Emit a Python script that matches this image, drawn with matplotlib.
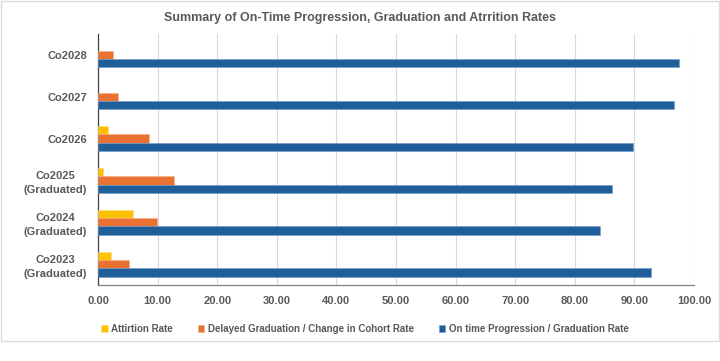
import matplotlib
matplotlib.use("Agg")
import matplotlib.pyplot as plt
import numpy as np
from matplotlib.patches import Rectangle

categories = ["Co2023\n(Graduated)", "Co2024\n(Graduated)", "Co2025\n(Graduated)", "Co2026", "Co2027", "Co2028"]
attrition = [2.1, 5.9, 0.9, 1.7, 0.0, 0.0]
delayed = [5.2, 9.9, 12.8, 8.5, 3.4, 2.6]
ontime = [92.8, 84.2, 86.3, 89.8, 96.7, 97.5]
xticks = [0, 10, 20, 30, 40, 50, 60, 70, 80, 90, 100]
series_names = ["Attirtion Rate", "Delayed Graduation / Change in Cohort Rate", "On time Progression / Graduation Rate"]
colors = ["#FFC000", "#E97132", "#1F5E99"]
edges = ["#FFE08A", "#F4B08C", "#6F9CCB"]

plt.rcParams['font.family'] = ['Liberation Sans', 'DejaVu Sans']
txt = "#595959"

fig = plt.figure(figsize=(7.2, 3.61), dpi=100)
ax = fig.add_axes([98/720, 1-285/361, (694-98)/720, (285-34)/361])

y = np.arange(len(categories))
h = 0.2
for vals, off, c, e, name in zip([attrition, delayed, ontime], [h, 0, -h], colors, edges, series_names):
    ec = [e if v > 0 else "none" for v in vals]
    ax.barh(y + off, vals, height=h, color=c, edgecolor=ec, linewidth=0.4, label=name, zorder=3)

ax.set_xlim(0, 100)
ax.set_ylim(-0.5, len(categories) - 0.5)
ax.set_xticks(xticks)
ax.set_xticklabels([f"{v:.2f}" for v in xticks], fontsize=8, fontweight="bold", color=txt)
ax.set_yticks(y)
ax.set_yticklabels(categories, fontsize=8, fontweight="bold", color=txt, linespacing=1.5)
for lbl in ax.get_yticklabels():
    lbl.set_multialignment("center")
ax.tick_params(axis="x", length=0, pad=8)
ax.tick_params(axis="y", length=0, pad=8)
ax.xaxis.grid(True, color="#D9D9D9", linewidth=0.8, zorder=0)
for s in ["top", "right"]:
    ax.spines[s].set_visible(False)
ax.spines["left"].set_color("#404040")
ax.spines["bottom"].set_color("#808080")
ax.spines["left"].set_linewidth(0.9)
ax.spines["bottom"].set_linewidth(0.9)

fig.text(0.5, 1-18/361, "Summary of On-Time Progression, Graduation and Atrrition Rates",
         ha="center", va="center", fontsize=9, fontweight="bold", color=txt)

leg = fig.legend(loc="center left", bbox_to_anchor=(92/720, 1-329/361), ncol=3, frameon=False,
                 fontsize=7, handlelength=0.7, handleheight=0.7, handletextpad=0.4, columnspacing=2.5)
for t in leg.get_texts():
    t.set_color(txt)
    t.set_fontweight("bold")

border = Rectangle((0.5/720, 1-341/361), 718.5/720, 340.5/361,
                   transform=fig.transFigure, fill=False, edgecolor="#DCDCDC", linewidth=1)
fig.patches.append(border)

fig.savefig("out.png", dpi=100)
